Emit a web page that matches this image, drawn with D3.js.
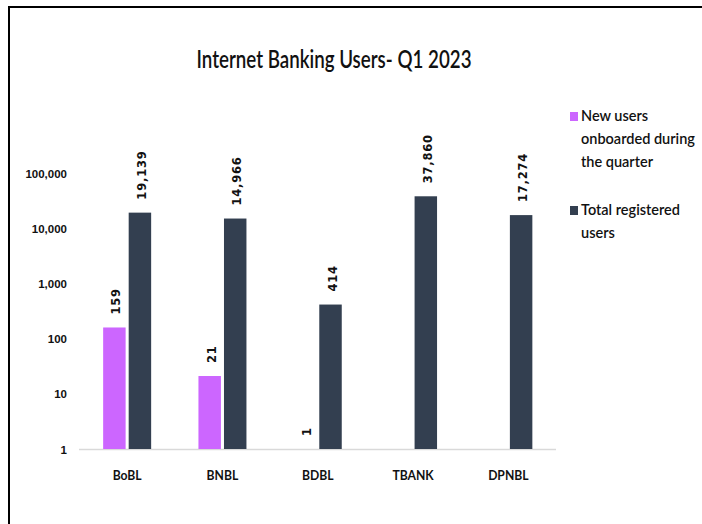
<!DOCTYPE html>
<html>
<head>
<meta charset="utf-8">
<script src="https://cdn.jsdelivr.net/npm/d3@7"></script>
<style>
  html, body { margin: 0; padding: 0; background: #fff; }
  svg { display: block; }
</style>
</head>
<body>
<svg id="chart" width="702" height="524"></svg>
<script>
const title = "Internet Banking Users- Q1 2023";
const categories = ["BoBL", "BNBL", "BDBL", "TBANK", "DPNBL"];
const seriesNames = ["New users onboarded during the quarter", "Total registered users"];
const legendLines = [["New users", "onboarded during", "the quarter"], ["Total registered", "users"]];
const newUsers = [159, 21, 1, null, null];
const totalUsers = [19139, 14966, 414, 37860, 17274];
const tickValues = [1, 10, 100, 1000, 10000, 100000];
const tickLabels = ["1", "10", "100", "1,000", "10,000", "100,000"];
const colors = ["#CC66FF", "#333F50"];

const svg = d3.select("#chart");

// frame
svg.append("line").attr("x1", 8).attr("x2", 702).attr("y1", 7).attr("y2", 7)
  .attr("stroke", "#000").attr("stroke-width", 2);
svg.append("line").attr("x1", 9).attr("x2", 9).attr("y1", 6).attr("y2", 524)
  .attr("stroke", "#000").attr("stroke-width", 2);

// title
svg.append("text").attr("x", 334).attr("y", 68)
  .attr("text-anchor", "middle")
  .attr("font-family", "Lato, 'Open Sans', sans-serif")
  .attr("font-weight", 600).attr("font-size", 24.5).attr("fill", "#111")
  .attr("textLength", 275).attr("lengthAdjust", "spacingAndGlyphs")
  .text(title);

const x = d3.scaleBand().domain(categories).range([79.5, 556]).paddingInner(0).paddingOuter(0);
const y = d3.scaleLog().domain([1, 100000]).range([449, 173]);
const inner = d3.scaleBand().domain([0, 1]).range([0, 48]).paddingInner(0.12);

// y axis labels
const yAxis = d3.axisLeft(y).tickValues(tickValues)
  .tickFormat((d, i) => tickLabels[i]).tickSize(0).tickPadding(0);
const yg = svg.append("g").attr("transform", "translate(67,0)").call(yAxis);
yg.select(".domain").remove();
yg.selectAll("text").attr("font-family", "'Liberation Sans', Arial, sans-serif")
  .attr("font-weight", "bold").attr("font-size", 11.5).attr("fill", "#111")
  .attr("dy", "0.35em");

// baseline
svg.append("line").attr("x1", 79).attr("x2", 556).attr("y1", y(1) + 0.5).attr("y2", y(1) + 0.5)
  .attr("stroke", "#D9D9D9").attr("stroke-width", 1.5);

// x axis labels
const xAxis = d3.axisBottom(x).tickSize(0).tickPadding(0);
const xg = svg.append("g").attr("transform", "translate(0,475)").call(xAxis);
xg.select(".domain").remove();
xg.selectAll("text").attr("font-family", "Lato, 'Open Sans', sans-serif")
  .attr("font-weight", "bold").attr("font-size", 13.5).attr("fill", "#111")
  .attr("dy", "0.35em")
  .each(function () {
    const n = this.getComputedTextLength();
    d3.select(this).attr("textLength", n * 0.9).attr("lengthAdjust", "spacingAndGlyphs");
  });

const series = [newUsers, totalUsers];
series.forEach((vals, si) => {
  const data = categories.map((c, i) => ({ c, v: vals[i] })).filter(d => d.v != null);
  const off = (x.bandwidth() - 48) / 2;
  const g = svg.append("g");
  g.selectAll("rect").data(data).enter().append("rect")
    .attr("x", d => x(d.c) + off + inner(si))
    .attr("width", inner.bandwidth())
    .attr("y", d => y(d.v))
    .attr("height", d => y(1) - y(d.v))
    .attr("fill", colors[si]);
  g.selectAll("text").data(data).enter().append("text")
    .attr("transform", d => `translate(${x(d.c) + off + inner(si) + inner.bandwidth() / 2 + 2},${y(d.v) - 13}) rotate(-90)`)
    .attr("dy", "0.35em")
    .attr("text-anchor", "start")
    .attr("font-family", "'DejaVu Sans', Verdana, sans-serif")
    .attr("font-weight", "bold").attr("font-size", 11.5)
    .attr("letter-spacing", 0.8)
    .attr("fill", "#111")
    .text(d => d3.format(",")(d.v));
});

// legend
const legendY = [117, 211];
legendLines.forEach((lines, i) => {
  svg.append("rect").attr("x", 570).attr("y", legendY[i] - 5).attr("width", 8).attr("height", 9)
    .attr("fill", colors[i]);
  const txt = svg.append("text").attr("x", 581).attr("y", legendY[i])
    .attr("font-family", "Lato, 'Open Sans', sans-serif")
    .attr("font-weight", 600).attr("font-size", 14.5).attr("fill", "#111");
  lines.forEach((ln, j) => {
    txt.append("tspan").attr("x", 581).attr("y", legendY[i] + j * 23)
      .attr("dominant-baseline", "middle").text(ln);
  });
});
</script>
</body>
</html>
